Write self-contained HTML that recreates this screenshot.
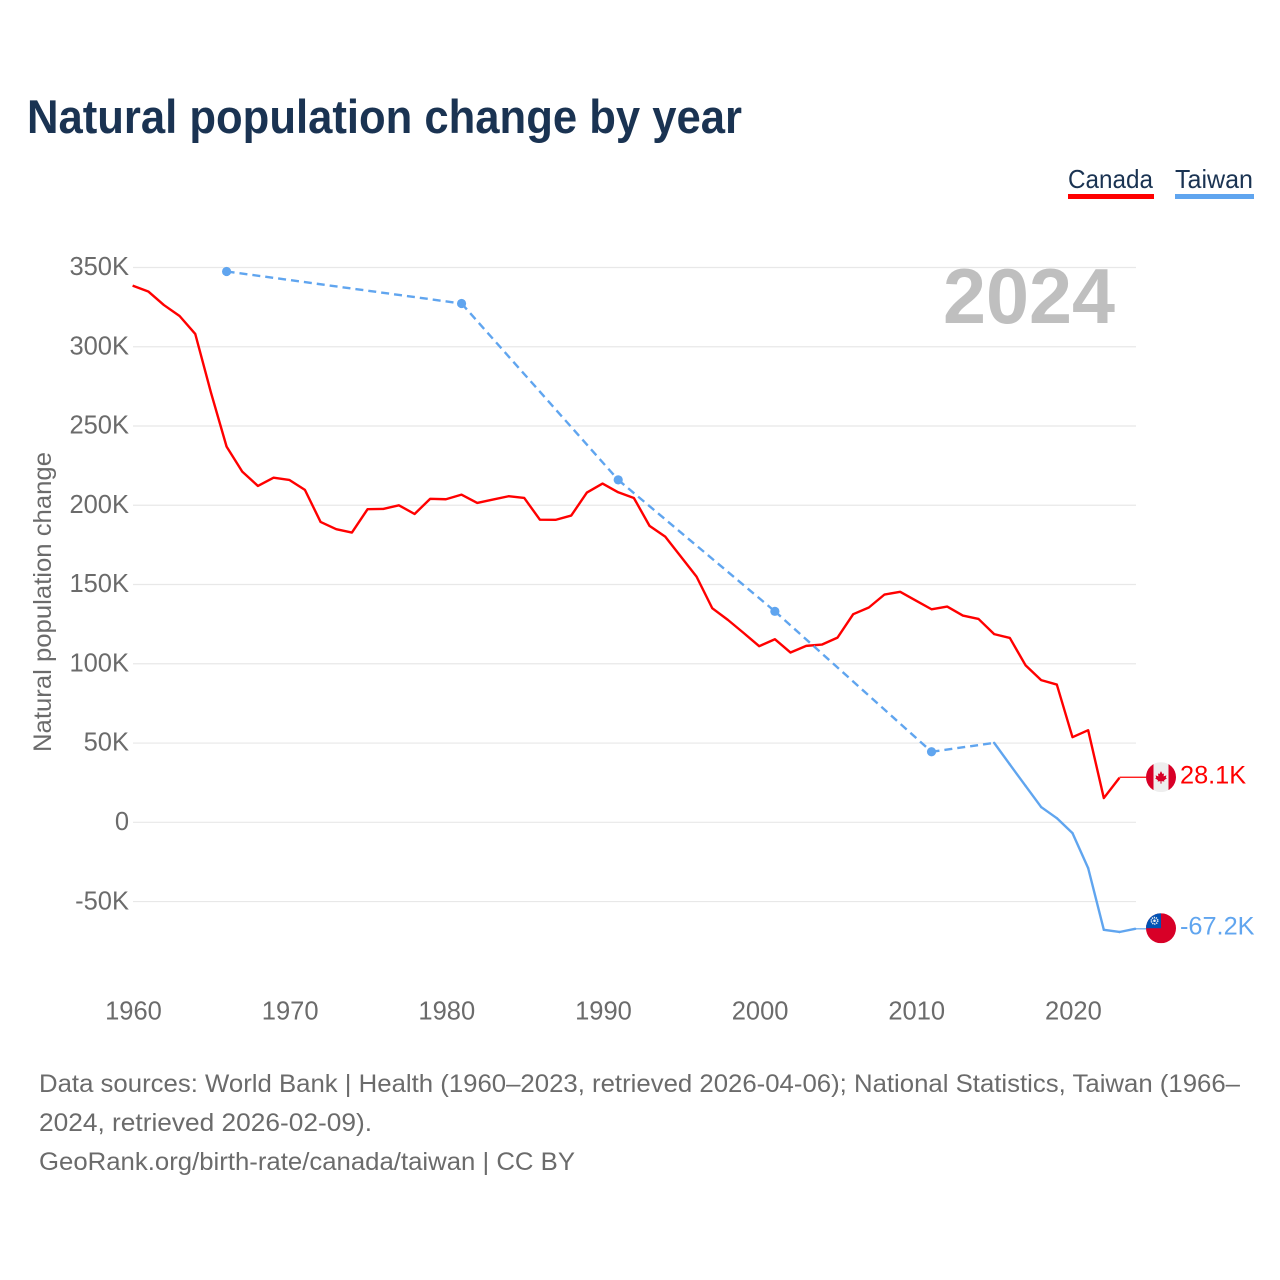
<!DOCTYPE html>
<html lang="en">
<head>
<meta charset="utf-8">
<title>Natural population change by year</title>
<style>
  html, body { margin: 0; padding: 0; background: #fff; }
  svg { display: block; font-family: "Liberation Sans", sans-serif; }
</style>
</head>
<body>
<svg id="chart" xmlns="http://www.w3.org/2000/svg" width="1280" height="1280" viewBox="0 0 1280 1280">
  <defs>
    <clipPath id="flag-clip-ca"><circle cx="0" cy="0" r="15"></circle></clipPath>
    <clipPath id="flag-clip-tw"><circle cx="0" cy="0" r="15"></circle></clipPath>
  </defs>
  <rect width="1280" height="1280" fill="#ffffff"></rect>
  <text x="27" y="133" font-size="47" font-weight="700" fill="#1a3352" textLength="715" lengthAdjust="spacingAndGlyphs">Natural population change by year</text>

  <g>
    <g>
      <text x="1068" y="188" font-size="26" fill="#1a3352" textLength="85" lengthAdjust="spacingAndGlyphs">Canada</text>
      <rect x="1068" y="194" width="86" height="5" fill="#ff0000"></rect>
    </g>
    <g>
      <text x="1175" y="188" font-size="26" fill="#1a3352" textLength="78" lengthAdjust="spacingAndGlyphs">Taiwan</text>
      <rect x="1175" y="194" width="79" height="5" fill="#60a5ef"></rect>
    </g>
  </g>

  <g id="grid"></g>
  <g id="y-ticks"></g>
  <g id="x-ticks"></g>

  <text transform="translate(51,602) rotate(-90)" text-anchor="middle" font-size="25" fill="#6b6b6b" textLength="300" lengthAdjust="spacingAndGlyphs">Natural population change</text>

  <text x="943" y="323" font-size="78" font-weight="700" fill="#bfbfbf" textLength="172" lengthAdjust="spacingAndGlyphs">2024</text>

  <g id="series"></g>

  <g id="flag-canada">
    <g clip-path="url(#flag-clip-ca)">
      <rect x="-15" y="-15" width="30" height="30" fill="#eeeeee"></rect>
      <rect x="-15" y="-15" width="7.5" height="30" fill="#d80027"></rect>
      <rect x="7.5" y="-15" width="7.5" height="30" fill="#d80027"></rect>
      <polygon fill="#d80027" points="0,-6 1.6,-3 3,-3.8 2.6,-0.8 5.4,-1.8 4.8,0.6 6,1 3,3.2 3.4,4.4 0.5,4 0.5,6.5 -0.5,6.5 -0.5,4 -3.4,4.4 -3,3.2 -6,1 -4.8,0.6 -5.4,-1.8 -2.6,-0.8 -3,-3.8 -1.6,-3"></polygon>
    </g>
  </g>
  <g id="flag-taiwan">
    <g clip-path="url(#flag-clip-tw)">
      <rect x="-15" y="-15" width="30" height="30" fill="#d80027"></rect>
      <rect x="-15" y="-15" width="15" height="15" fill="#0052b4"></rect>
      <circle cx="-6.5" cy="-7.5" r="3.2" fill="none" stroke="#f0f0f0" stroke-width="1.6" stroke-dasharray="1.2 0.8"></circle>
      <circle cx="-6.5" cy="-7.5" r="1.3" fill="#f0f0f0"></circle>
    </g>
  </g>

  <g font-size="25" fill="#6b6b6b">
    <text x="39" y="1092" textLength="1201" lengthAdjust="spacingAndGlyphs">Data sources: World Bank | Health (1960–2023, retrieved 2026-04-06); National Statistics, Taiwan (1966–</text>
    <text x="39" y="1131" textLength="333" lengthAdjust="spacingAndGlyphs">2024, retrieved 2026-02-09).</text>
    <text x="39" y="1170" textLength="536" lengthAdjust="spacingAndGlyphs">GeoRank.org/birth-rate/canada/taiwan | CC BY</text>
  </g>
</svg>
<script>
var yTickValues = [350000, 300000, 250000, 200000, 150000, 100000, 50000, 0, -50000];
var yTickLabels = ["350K", "300K", "250K", "200K", "150K", "100K", "50K", "0", "-50K"];
var xTickYears = [1960, 1970, 1980, 1990, 2000, 2010, 2020];

var canadaStartYear = 1960;
var canadaValues = [
  338.6, 334.9, 326.3, 319.4, 308.1, 271.2, 237.0, 221.2, 212.2, 217.4,
  216.0, 209.7, 189.5, 184.9, 182.8, 197.5, 197.7, 200.0, 194.5, 204.1,
  203.8, 206.7, 201.5, 203.6, 205.7, 204.6, 190.9, 190.8, 193.5, 208.0,
  213.7, 208.2, 204.6, 187.0, 180.2, 167.6, 155.0, 135.1, 127.7, 119.5,
  111.1, 115.5, 107.1, 111.3, 112.1, 116.5, 131.3, 135.5, 143.7, 145.4,
  139.9, 134.4, 136.1, 130.4, 128.3, 118.7, 116.3, 99.1, 89.7, 86.9,
  53.7, 58.1, 15.3, 28.1
];
var taiwanYears = [1966, 1981, 1991, 2001, 2011, 2015, 2016, 2017, 2018, 2019, 2020, 2021, 2022, 2023, 2024];
var taiwanValues = [347.5, 327.3, 216.0, 133.1, 44.5, 50.1, 36.5, 23.0, 9.6, 2.6, -6.8, -28.9, -67.8, -69.2, -67.2];
var canadaEndLabel = "28.1K";
var taiwanEndLabel = "-67.2K";

var SVGNS = "http://www.w3.org/2000/svg";
var PLOT_LEFT = 133, PLOT_RIGHT = 1136, FLAG_X = 1161;
function xScale(year) { return 132.6 + (year - 1960) * 15.665; }
function yScale(k) { return 822.3 - k * (554.8 / 350); }
function make(tag, attrs) {
  var el = document.createElementNS(SVGNS, tag);
  for (var key in attrs) { el.setAttribute(key, attrs[key]); }
  return el;
}

var gridG = document.getElementById("grid");
var yG = document.getElementById("y-ticks");
yTickValues.forEach(function (v, i) {
  var py = yScale(v / 1000);
  var line = make("line", { x1: PLOT_LEFT, x2: PLOT_RIGHT, y1: py, y2: py, stroke: "#e8e8e8", "stroke-width": 1.2 });
  
  
  gridG.appendChild(line);
  var label = make("text", { x: 129, y: py + 7.7, "text-anchor": "end", "font-size": 25.5, fill: "#6b6b6b" });
  
  
  label.textContent = yTickLabels[i];
  yG.appendChild(label);
});

var xG = document.getElementById("x-ticks");
xTickYears.forEach(function (yr) {
  var label = make("text", { x: xScale(yr) + 0.9, y: 1019.5, "text-anchor": "middle", "font-size": 25.5, fill: "#6b6b6b" });
  
  
  label.textContent = yr;
  xG.appendChild(label);
});

var seriesG = document.getElementById("series");

// Canada line
var canadaPts = canadaValues.map(function (v, i) {
  return xScale(canadaStartYear + i).toFixed(2) + "," + yScale(v).toFixed(2);
}).join(" ");
var canadaLine = make("polyline", { points: canadaPts, fill: "none", stroke: "#ff0000", "stroke-width": 2.4, "stroke-linejoin": "round" });


seriesG.appendChild(canadaLine);

// Taiwan segments: solid for consecutive years, dashed across gaps, dots on isolated points
taiwanYears.forEach(function (yr, i) {
  if (i > 0) {
    var prevYr = taiwanYears[i - 1];
    var consecutive = yr - prevYr === 1;
    var seg = make("line", {
      x1: xScale(prevYr), y1: yScale(taiwanValues[i - 1]),
      x2: xScale(yr), y2: yScale(taiwanValues[i]),
      stroke: "#60a5ef", "stroke-width": 2.4, "stroke-linecap": "round"
    });
    if (!consecutive) { seg.setAttribute("stroke-dasharray", "8 5"); seg.setAttribute("stroke-linecap", "butt"); }
    
    
    seriesG.appendChild(seg);
  }
  var hasPrev = i > 0 && yr - taiwanYears[i - 1] === 1;
  var hasNext = i < taiwanYears.length - 1 && taiwanYears[i + 1] - yr === 1;
  if (!hasPrev && !hasNext) {
    var dot = make("circle", { cx: xScale(yr), cy: yScale(taiwanValues[i]), r: 4.6, fill: "#60a5ef" });
    
    
    seriesG.appendChild(dot);
  }
});

// End connectors, flags, labels
var canadaEndIndex = canadaValues.length - 1;
var canadaEndY = yScale(canadaValues[canadaEndIndex]);
var taiwanEndIndex = taiwanValues.length - 1;
var taiwanEndY = yScale(taiwanValues[taiwanEndIndex]);

var canadaConn = make("line", { x1: xScale(canadaStartYear + canadaEndIndex), y1: canadaEndY - 0.5, x2: FLAG_X - 15, y2: canadaEndY - 0.5, stroke: "#ff0000", "stroke-width": 1.2 });


seriesG.appendChild(canadaConn);

var taiwanConn = make("line", { x1: xScale(taiwanYears[taiwanEndIndex]), y1: taiwanEndY, x2: FLAG_X - 15, y2: taiwanEndY, stroke: "#60a5ef", "stroke-width": 1.2 });


seriesG.appendChild(taiwanConn);

document.getElementById("flag-canada").setAttribute("transform", "translate(" + FLAG_X + "," + (canadaEndY - 0.6) + ")");
document.getElementById("flag-taiwan").setAttribute("transform", "translate(" + FLAG_X + "," + (taiwanEndY - 0.6) + ")");

var canadaLabel = make("text", { x: 1180, y: canadaEndY + 5.8, "font-size": 25.3, fill: "#ff0000" });


canadaLabel.textContent = canadaEndLabel;
document.getElementById("chart").appendChild(canadaLabel);

var taiwanLabel = make("text", { x: 1180, y: taiwanEndY + 5.8, "font-size": 25.3, fill: "#60a5ef" });


taiwanLabel.textContent = taiwanEndLabel;
document.getElementById("chart").appendChild(taiwanLabel);
</script>
</body>
</html>
